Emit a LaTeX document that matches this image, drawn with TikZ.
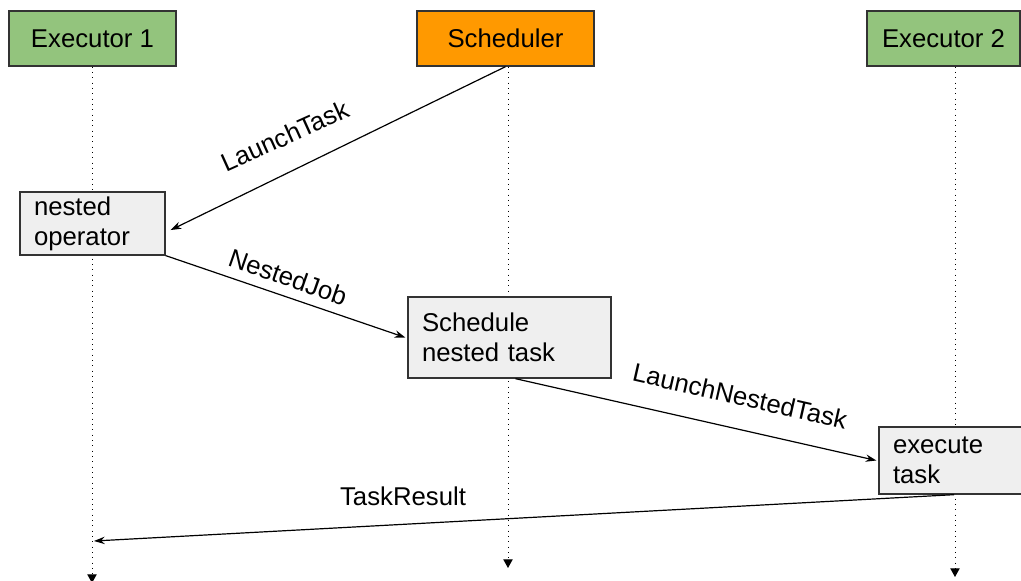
\documentclass[tikz,border=0pt]{standalone}
\usepackage{fontspec}
\setmainfont{Liberation Sans}
\usetikzlibrary{arrows.meta}

\definecolor{actorgreen}{HTML}{93C47D}
\definecolor{actororange}{HTML}{FF9900}
\definecolor{stepgray}{HTML}{EFEFEF}

\tikzset{every picture/.style={line width=0.75pt}}
\tikzset{
	seqfont/.style={font=\fontsize{19.3}{22.5}\selectfont},
	actor/.style={seqfont, draw=black!80, line width=1pt, minimum height=41.25pt},
	stepbox/.style={seqfont, draw=black!80, line width=1pt, fill=stepgray, align=left, inner xsep=10.5pt},
	lifeline/.style={dash pattern=on 0.75pt off 3.25pt, -{Triangle[length=6.5pt,width=7pt]}},
	msg/.style={line width=0.9pt, -{Stealth[length=8pt,width=5.5pt]}},
	msglabel/.style={seqfont, inner sep=0pt}}

\begin{document}
\begin{tikzpicture}[x=0.75pt,y=0.75pt,yscale=-1,xscale=1]
	\useasboundingbox (0,0) rectangle (1021,581);

	% Actors
	\node[actor, fill=actorgreen, minimum width=125.25pt] (exec1) at (92.5,38.5) {Executor 1};
	\node[actor, fill=actororange, minimum width=132.75pt] (sched) at (505.5,38.5) {Scheduler};
	\node[actor, fill=actorgreen, minimum width=114.75pt] (exec2) at (943.5,38.5) {Executor 2};

	% Lifelines
	\coordinate (end1) at (92,583);
	\coordinate (end2) at (508,568);
	\coordinate (end3) at (955,577);
	\draw[lifeline] (exec1.south -| end1) -- (end1);
	\draw[lifeline] (sched.south -| end2) -- (end2);
	\draw[lifeline] (exec2.south -| end3) -- (end3);

	% Activation boxes
	\node[stepbox, text width=87.75pt, minimum height=44.25pt] (nestop) at (92.5,223.5) {nested\\operator};
	\node[stepbox, text width=131.25pt, minimum height=60.75pt] (schedtask) at (509.5,337.5) {Schedule\\nested task};
	\node[stepbox, text width=96pt, minimum height=50.25pt] (exectask) at (957,460.5) {execute\\task};
	\coordinate (result) at (94,541);

	% Messages
	\draw[msg] (sched.south) -- ([xshift=3.75pt,yshift=4.9pt]nestop.east);
	\draw[msg] (nestop.south east) -- ([xshift=-1.5pt]schedtask.west);
	\draw[msg] ([xshift=4.5pt]schedtask.south) -- ([xshift=-1.5pt]exectask.west);
	\draw[msg] ([xshift=-2.25pt]exectask.south) -- (result);

	% Text Node
	\node[msglabel, rotate=24.3] (lbllaunch) at (285,136) {LaunchTask};
	% Text Node
	\node[msglabel, rotate=-19.2] (lblnested) at (288,277) {NestedJob};
	% Text Node
	\node[msglabel, rotate=-12.8] (lblnestedtask) at (740,396) {LaunchNestedTask};
	% Text Node
	\node[msglabel] (lblresult) at (403,496) {TaskResult};

\end{tikzpicture}
\end{document}
